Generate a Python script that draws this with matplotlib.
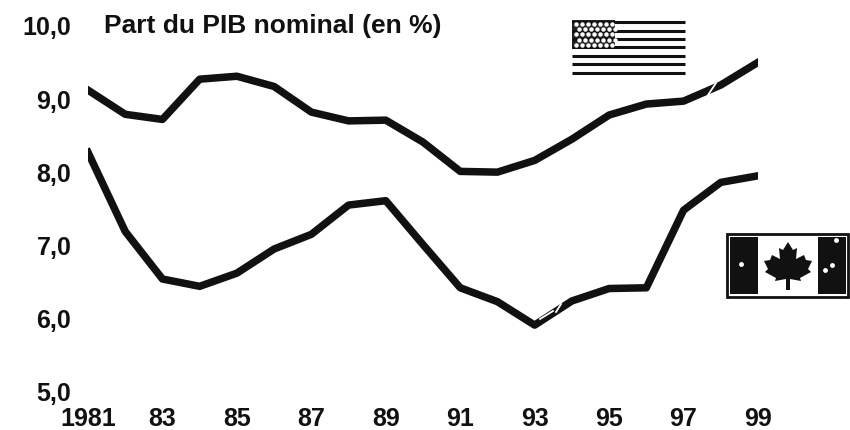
import matplotlib
matplotlib.use("Agg")
import matplotlib.pyplot as plt
from matplotlib.patches import Rectangle, Polygon

years = [1981, 1982, 1983, 1984, 1985, 1986, 1987, 1988, 1989, 1990,
         1991, 1992, 1993, 1994, 1995, 1996, 1997, 1998, 1999]
usa = [9.11, 8.78, 8.71, 9.26, 9.30, 9.16, 8.81, 8.69, 8.70, 8.40,
       8.00, 7.99, 8.15, 8.44, 8.77, 8.92, 8.96, 9.18, 9.49]
canada = [8.26, 7.18, 6.53, 6.43, 6.61, 6.94, 7.14, 7.54, 7.60, 7.00,
          6.41, 6.22, 5.90, 6.23, 6.40, 6.41, 7.47, 7.85, 7.94]
x_ticks = [1981, 1983, 1985, 1987, 1989, 1991, 1993, 1995, 1997, 1999]
x_labels = ["1981", "83", "85", "87", "89", "91", "93", "95", "97", "99"]
y_ticks = [5, 6, 7, 8, 9, 10]
y_labels = ["5,0", "6,0", "7,0", "8,0", "9,0", "10,0"]
title = "Part du PIB nominal (en %)"

plt.rcParams["font.family"] = ["Liberation Sans", "DejaVu Sans"]
W, H = 850, 431
fig = plt.figure(figsize=(W / 100, H / 100), dpi=100)

# axes placed so 1981..1999 and 5..10 land where they do in the scan
ax = fig.add_axes([88 / W, (H - 392) / H, 670 / W, 366 / H])
ax.set_xlim(1981, 1999)
ax.set_ylim(5, 10)
ax.plot(years, usa, color="#111111", lw=5.4, solid_joinstyle="round")
ax.plot(years, canada, color="#111111", lw=5.4, solid_joinstyle="round")
for s in ax.spines.values():
    s.set_visible(False)
ax.patch.set_visible(False)
ax.set_xticks(x_ticks)
ax.set_xticklabels(x_labels, fontsize=18, fontweight="bold", color="#111111")
ax.set_yticks(y_ticks)
ax.set_yticklabels(y_labels, fontsize=18, fontweight="bold", color="#111111")
ax.tick_params(axis="both", length=0)
ax.tick_params(axis="x", pad=11)
ax.tick_params(axis="y", pad=12)

# overlay in pixel coordinates for title and flags
ov = fig.add_axes([0, 0, 1, 1])
ov.set_xlim(0, W)
ov.set_ylim(H, 0)
ov.axis("off")
ov.text(104, 26, title, fontsize=19, fontweight="bold", color="#111111", va="center", ha="left")

# USA flag
for y in [23, 32, 40, 48, 57, 65, 74]:
    ov.plot([572, 685], [y, y], color="#111111", lw=2.2, solid_capstyle="butt")
ov.add_patch(Rectangle((572, 21), 43, 29, color="#222222", lw=0))
for r in range(5):
    for c in range(7):
        ov.plot(576 + c * 6 + (r % 2) * 3, 25 + r * 5.2, "o", ms=3.2, color="white", mew=0)

# Canadian flag
ov.add_patch(Rectangle((727, 235), 121, 63, fill=False, ec="#111111", lw=2))
ov.add_patch(Rectangle((730, 238), 28, 57, color="#111111", lw=0))
ov.add_patch(Rectangle((818, 238), 28, 57, color="#111111", lw=0))
for px, py in [(741, 265), (825, 271), (832, 266), (836, 241)]:
    ov.plot(px, py, "o", ms=3.5, color="white", mew=0)
leaf = [(788, 243), (793, 251), (797, 249), (796, 260), (804, 256), (806, 261),
        (812, 262), (808, 270), (811, 273), (800, 279), (801, 282), (790, 280),
        (790, 291), (786, 291), (786, 280), (775, 282), (776, 279), (765, 273),
        (768, 270), (764, 262), (770, 261), (772, 256), (780, 260), (779, 249), (783, 251)]
ov.add_patch(Polygon(leaf, closed=True, color="#111111", lw=0))

# white scratches across the lines in the scan
for seg in [[(708, 96), (716, 84)], [(540, 320), (553, 312)], [(556, 313), (561, 305)]]:
    ov.plot(*zip(*seg), color="white", lw=1.3)

fig.savefig("out.png", dpi=100)
